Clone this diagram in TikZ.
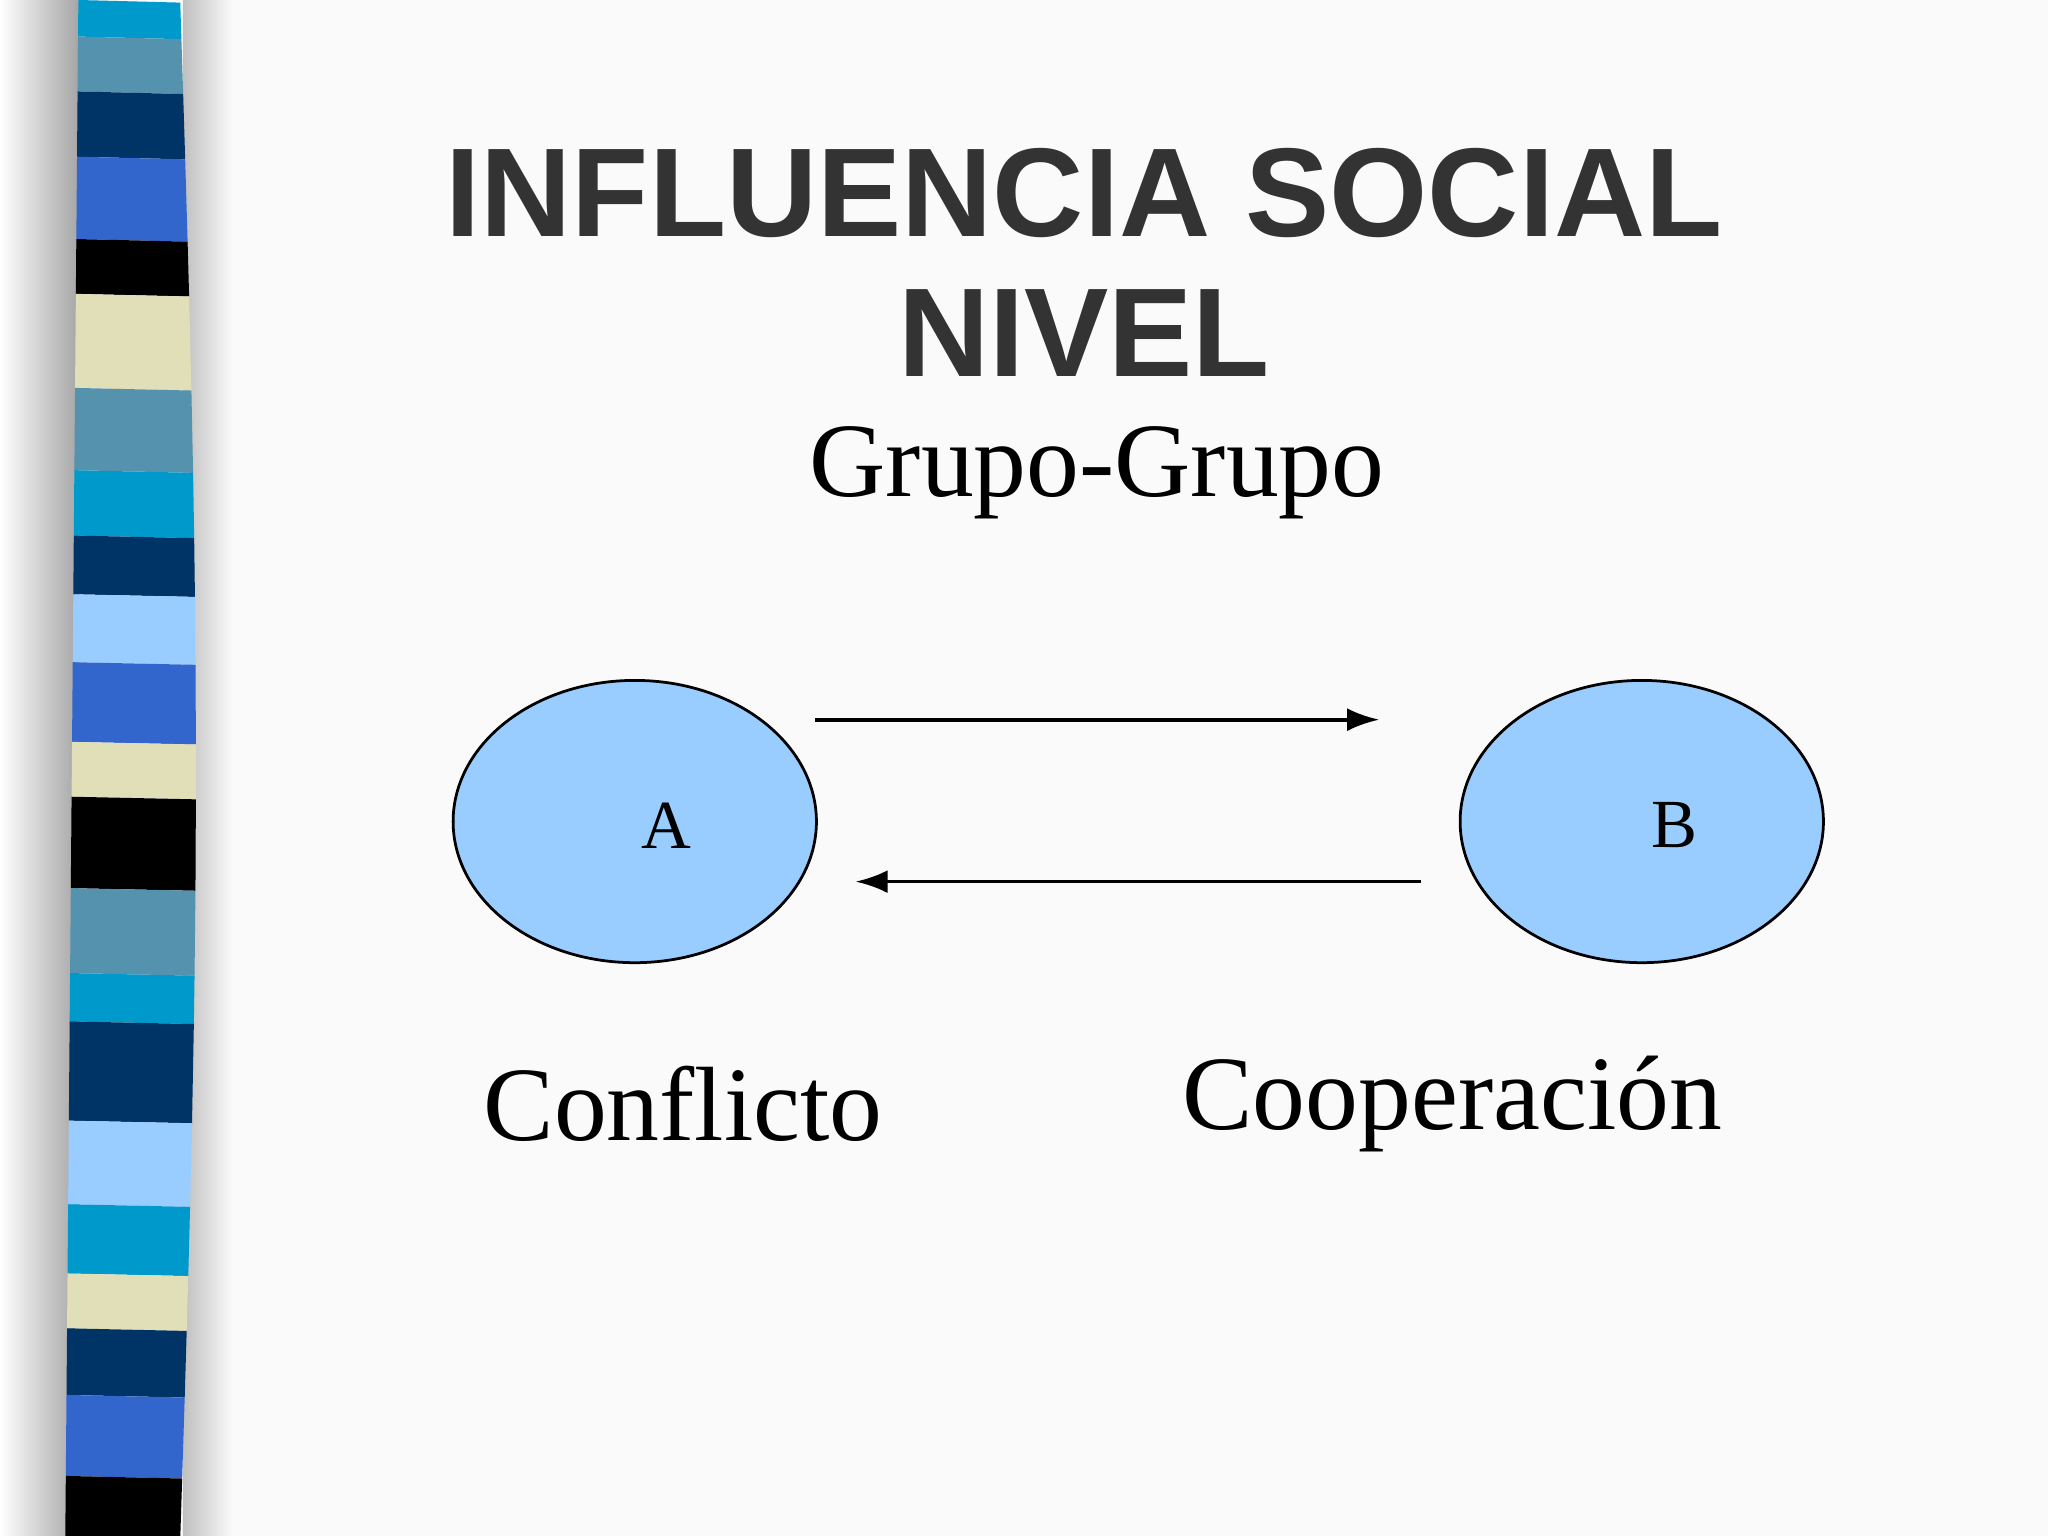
\documentclass[tikz,border=0pt]{standalone}
\usepackage{fontspec}
\setmainfont{Liberation Serif}
\newfontfamily\titlefont{Liberation Sans}
\usetikzlibrary{arrows.meta,shapes.geometric}
\definecolor{bg}{HTML}{FAFAFA}
\definecolor{cya}{HTML}{0099CC}
\definecolor{stb}{HTML}{5592AE}
\definecolor{nav}{HTML}{003366}
\definecolor{roy}{HTML}{3366CC}
\definecolor{bei}{HTML}{E0DFB8}
\definecolor{lbl}{HTML}{99CCFF}
\definecolor{ell}{HTML}{99CCFF}
\definecolor{tit}{HTML}{333333}
\tikzset{grp/.style={ellipse,draw=black,fill=ell,line width=0.6pt,minimum width=2.78cm,minimum height=2.16cm},
 arr/.style={-{Latex[length=7pt,width=5pt]},line width=0.8pt},
 big/.style={font=\fontsize{23}{26}\selectfont}}
\begin{document}
\begin{tikzpicture}[x=0.01cm,y=-0.01cm]
\useasboundingbox (0,0) rectangle (1568,1176);
\fill[bg] (0,0) rectangle (1568,1176);
\shade[left color=white,right color=gray!70] (0,0) rectangle (60,1176);
\shade[left color=gray!50,right color=bg] (140,0) rectangle (178,1176);
\foreach \a/\b/\c in {0/28/cya,28/70/stb,70/120/nav,120/183/roy,183/225/black,225/297/bei,297/360/stb,360/410/cya,410/455/nav,455/507/lbl,507/568/roy,568/610/bei,610/680/black,680/745/stb,745/782/cya,782/858/nav,858/922/lbl,922/975/cya,975/1017/bei,1017/1068/nav,1068/1130/roy,1130/1176/black}{
 \pgfmathsetmacro\la{60-\a/117.6}\pgfmathsetmacro\lb{60-\b/117.6}
 \pgfmathsetmacro\ra{138+12*sin(\a/1176*180)}\pgfmathsetmacro\rb{138+12*sin(\b/1176*180)}
 \fill[\c] (\la,\a) -- (\ra,\a+2) -- (\rb,\b+2) -- (\lb,\b) -- cycle;}
\node[font=\titlefont\bfseries\fontsize{27.5}{31}\selectfont,text=tit] (t1) at (830,148) {INFLUENCIA SOCIAL};
\node[font=\titlefont\bfseries\fontsize{27.5}{31}\selectfont,text=tit] (t2) at (830,255) {NIVEL};
\node[big] (gg) at (840,362) {Grupo-Grupo};
\node[grp] (A) at (486,629) {};
\node[grp] (B) at (1257,629) {};
\node[font=\fontsize{15}{18}\selectfont] (la) at (510,632) {A};
\node[font=\fontsize{15}{18}\selectfont] (lb) at (1282,632) {B};
\coordinate (p1) at (624,551); \coordinate (p2) at (1056,551);
\coordinate (q1) at (1088,675); \coordinate (q2) at (655,675);
\draw[arr] (p1) -- (p2);
\draw[arr] (q1) -- (q2);
\node[big] (c1) at (523,845) {Conflicto};
\node[big] (c2) at (1112,845) {Cooperación};
\end{tikzpicture}
\end{document}
